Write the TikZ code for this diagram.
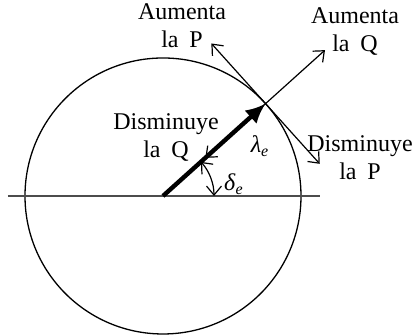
\documentclass[tikz,border=0pt]{standalone}
\usepackage{fontspec}
\setmainfont{Liberation Serif}
\usepackage{tikz}
\usetikzlibrary{arrows.meta, calc, positioning}

\begin{document}
\begin{tikzpicture}[
    x=0.5pt, y=0.5pt,
    every node/.style={font=\fontsize{12}{14}\selectfont, inner sep=0pt},
    lbl/.style={align=center},
    arrow/.style={-{Straight Barb[length=4.5pt,width=7.5pt]}, line width=0.6pt},
    vec/.style={-{Latex[length=10pt,width=9pt]}, line width=2.2pt}
]
\useasboundingbox (0,0) rectangle (414,335);

% Circle and axis
\coordinate (C) at (163,139);
\coordinate (T) at ($(C)+(42:138)$);
\draw[line width=0.65pt] (C) circle[radius=69pt];
\draw[line width=0.6pt, black!70] (8,139) -- (320,139);

% Labels
\node[lbl] (aumP) at (182,309) {Aumenta\\la\hspace{0.45em}P};
\node[lbl] (aumQ) at (355,303) {Aumenta\\la\hspace{0.45em}Q};
\node[lbl] (disP) at (360,177) {Disminuye\\la\hspace{0.45em}P};
\node[lbl] (disQ) at (166,197) {Disminuye\\la\hspace{0.45em}Q};
\node (lam) at (260,189) {\textit{λ}\textsubscript{\textit{e}}};
\node (del) at (234,151) {\textit{δ}\textsubscript{\textit{e}}};

% Arrows
\draw[vec] (C) -- (T);
\draw[arrow] (T) -- ($(C)+(42:218)$);
\draw[arrow] (T) -- ($(C)+(42:57)$);
\draw[arrow] (T) -- ($(T)+(132:81)$);
\draw[arrow] (T) -- ($(T)+(-48:81)$);
\draw[{Straight Barb[length=4.5pt,width=7.5pt]}-{Straight Barb[length=4.5pt,width=7.5pt]}, line width=0.6pt]
    ($(C)+(0:51)$) arc[start angle=0, end angle=42, radius=25.5pt];

\end{tikzpicture}
\end{document}
